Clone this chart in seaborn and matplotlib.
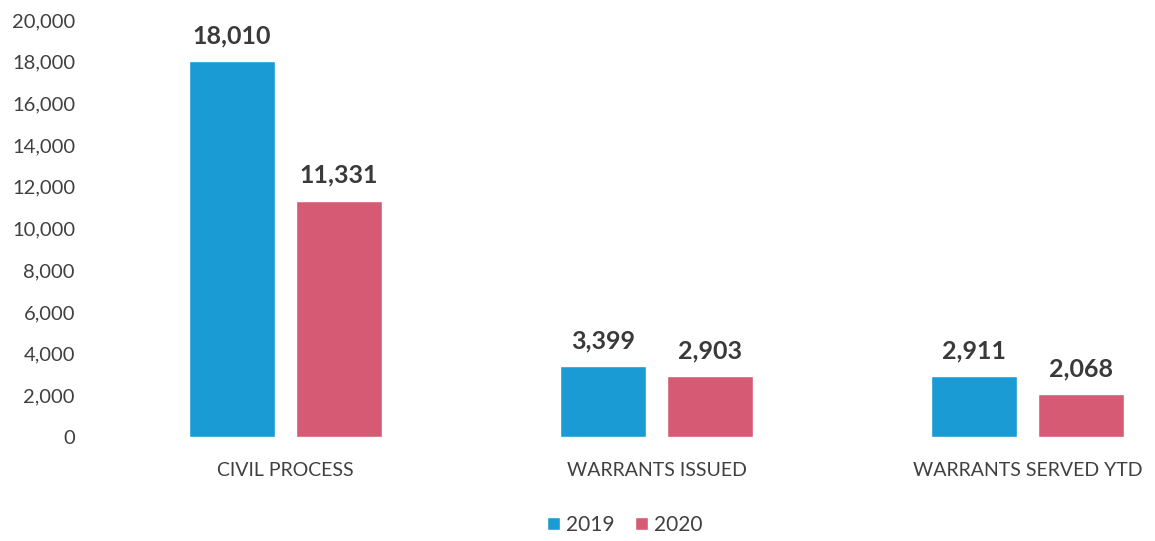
import pandas as pd
import seaborn as sns
import matplotlib.pyplot as plt

categories = ["CIVIL PROCESS", "WARRANTS ISSUED", "WARRANTS SERVED YTD"]
years = ["2019", "2020"]
values_2019 = [18010, 3399, 2911]
values_2020 = [11331, 2903, 2068]
colors = ["#1b9bd3", "#d65a74"]

df = pd.DataFrame({
    "category": categories * 2,
    "year": [years[0]] * 3 + [years[1]] * 3,
    "value": values_2019 + values_2020,
})

sns.set_style("white")
plt.rcParams["font.family"] = ["Lato", "DejaVu Sans"]

fig = plt.figure(figsize=(11.55, 5.41), dpi=100)
ax = fig.add_axes([100 / 1155, 104 / 541, 1050 / 1155, 417 / 541])

sns.barplot(data=df, x="category", y="value", hue="year", hue_order=years,
            palette=colors, width=0.577, gap=0.2, saturation=1, ax=ax)

for c in ax.containers:
    ax.bar_label(c, labels=[f"{v:,.0f}" for v in c.datavalues], padding=10,
                 fontsize=18, fontweight="bold", color="#3a3a3a")

ax.set_ylim(0, 20000)
ax.set_xlim(-0.5, 2.33)
ax.set_yticks(range(0, 20001, 2000))
ax.yaxis.set_major_formatter(plt.FuncFormatter(lambda v, p: f"{v:,.0f}"))
ax.tick_params(axis="y", labelsize=14.5, labelcolor="#404040", length=0, pad=18)
ax.tick_params(axis="x", labelsize=14, labelcolor="#404040", length=0, pad=18)
ax.set_xlabel("")
ax.set_ylabel("")
sns.despine(ax=ax, left=True, bottom=True)

ax.legend(title=None, loc="lower center", bbox_to_anchor=(0.5, -0.28),
          ncol=2, frameon=False, fontsize=15, handlelength=0.6, handleheight=0.6,
          handletextpad=0.3, columnspacing=1.0, labelcolor="#404040")

fig.savefig("out.png", dpi=100)
